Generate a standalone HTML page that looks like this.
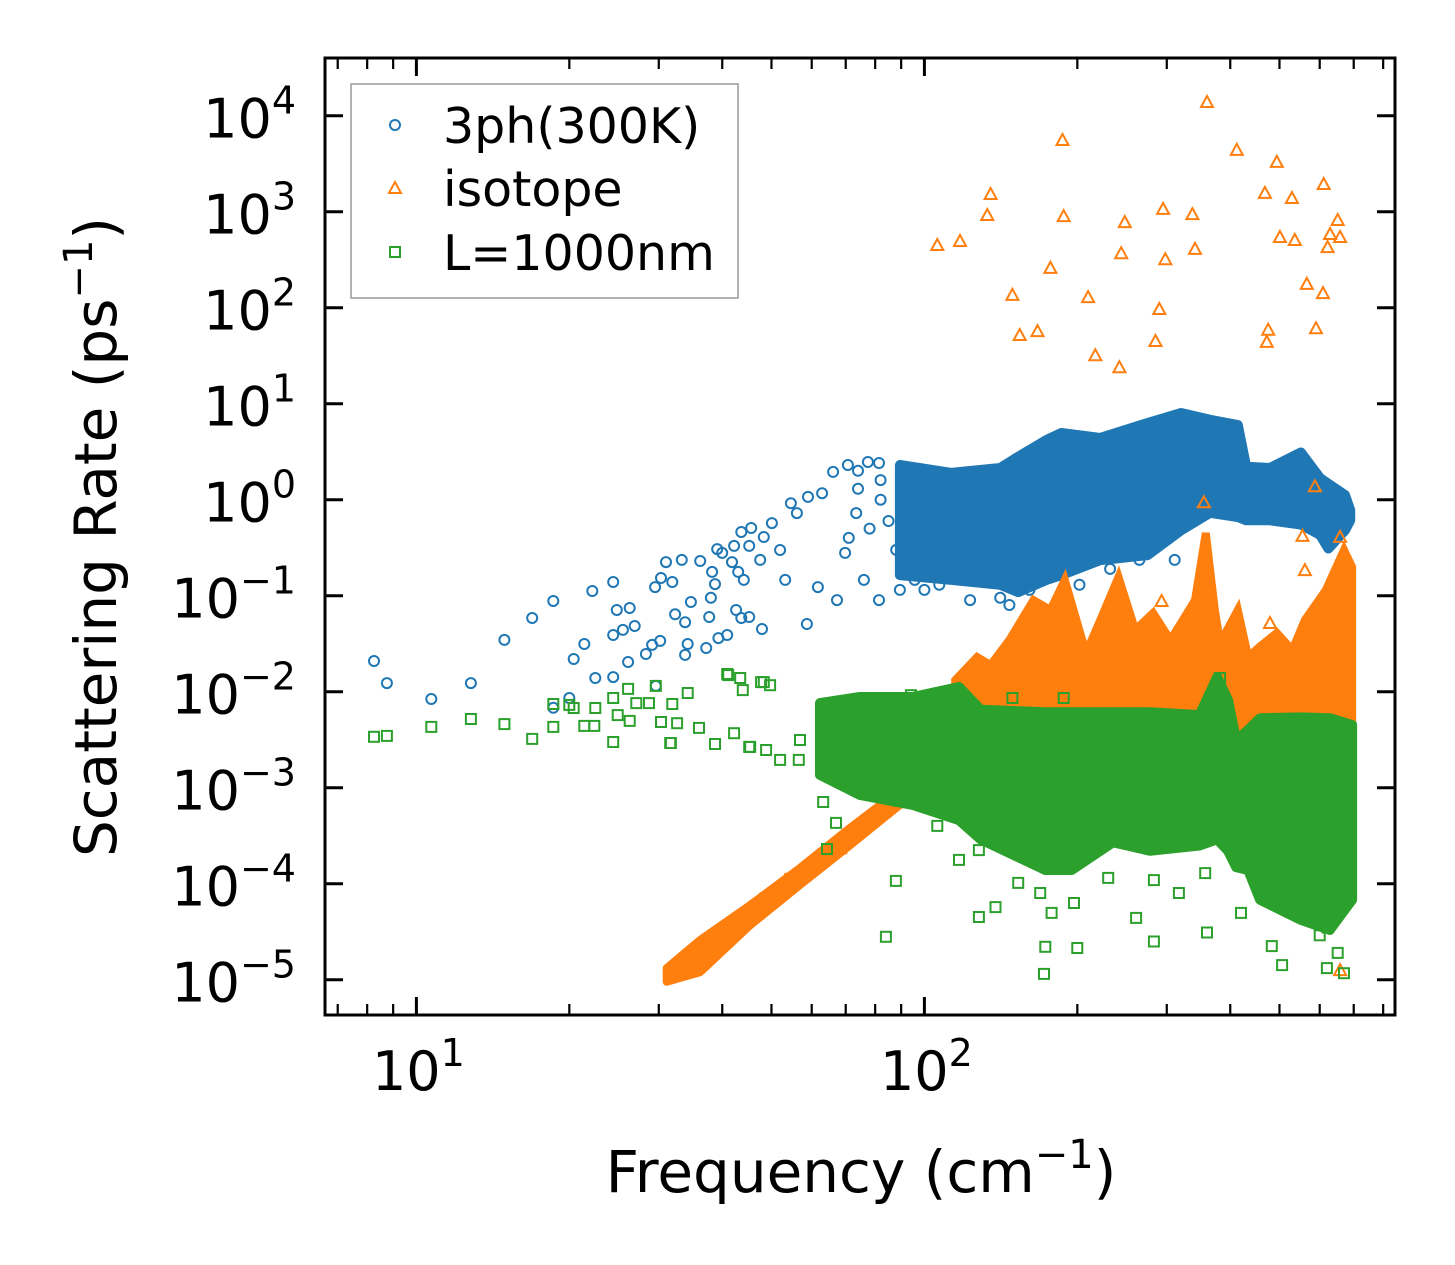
<!DOCTYPE html>
<html><head><meta charset="utf-8"><title>Scattering Rate vs Frequency</title>
<style>
html,body{margin:0;padding:0;background:#fff;}
svg{display:block;font-family:"DejaVu Sans","Liberation Sans",sans-serif;}
</style></head>
<body>
<svg id="chart" width="1455" height="1265" viewBox="0 0 1455 1265" xmlns="http://www.w3.org/2000/svg">
<rect x="0" y="0" width="1455" height="1265" fill="#fff"/>
<g id="marks"></g>
<g id="axes"></g>
<g id="legend">
  <rect x="351" y="84" width="387" height="214" fill="#fff" fill-opacity="0.8" stroke="#999" stroke-width="1.5"/>
  <circle cx="395" cy="125" r="5" fill="none" stroke="#1f77b4" stroke-width="2"/>
  <text x="443" y="143" font-size="49" fill="#000">3ph(300K)</text>
  <polygon points="395,182 401,193 389,193" fill="none" stroke="#ff7f0e" stroke-width="2"/>
  <text x="443" y="206" font-size="49" fill="#000">isotope</text>
  <rect x="390" y="247" width="10" height="10" fill="none" stroke="#2ca02c" stroke-width="2"/>
  <text x="443" y="270" font-size="49" fill="#000">L=1000nm</text>
</g>
<text x="861" y="1192" font-size="58" text-anchor="middle" fill="#000">Frequency (cm<tspan font-size="40" dy="-24">−1</tspan><tspan dy="24">)</tspan></text>
<text transform="translate(116,537) rotate(-90)" font-size="58" text-anchor="middle" fill="#000">Scattering Rate (ps<tspan font-size="40" dy="-24">−1</tspan><tspan dy="24">)</tspan></text>
</svg>
<script>
// ---- axis domain ----
const xTickExps = [1, 2];
const yTickExps = [4, 3, 2, 1, 0, -1, -2, -3, -4, -5];
const xMinorVals = [7, 8, 9, 20, 30, 40, 50, 60, 70, 80, 90, 200, 300, 400, 500, 600, 700, 800];

// ---- 3ph (300K) : scattered points ----
const blueFreq = [8.25,8.75,10.7,12.8,14.9,16.9,18.6,22.2,24.4,20.0,18.6,20.4,21.4,22.5,24.4,24.4,24.8,26.3,25.5,26.9,26.1,28.3,29.1,30.2,29.6,29.5,30.3,31.0,31.9,33.3,32.3,33.8,34.7,34.2,33.8,36.2,37.2,37.7,38.0,38.2,38.7,39.1,40.0,39.3,40.9,42.2,41.8,43.0,43.6,44.1,45.6,45.2,47.5,42.6,43.6,45.2,47.9,50.1,48.3,52.0,53.2,54.6,56.1,58.7,59.0,62.9,66.1,61.7,67.3,70.7,77.4,81.4,73.4,69.8,81.4,76.0,89.5,95.7,107,119,132,141,74,82,78,85,71,88,82,74,91.6,100,112,123,135,147,161,185,202,232,265,311];
const blueRate = [0.0209,0.0123,0.0084,0.0123,0.0346,0.0586,0.088,0.112,0.139,0.0086,0.0068,0.0219,0.0314,0.0139,0.0142,0.039,0.071,0.0745,0.044,0.0484,0.0204,0.0247,0.0307,0.0338,0.0115,0.123,0.153,0.224,0.139,0.236,0.064,0.053,0.086,0.0314,0.0242,0.23,0.0285,0.060,0.095,0.177,0.132,0.306,0.279,0.0362,0.039,0.33,0.224,0.177,0.461,0.146,0.507,0.33,0.236,0.071,0.0586,0.060,0.045,0.571,0.409,0.299,0.146,0.92,0.726,0.0507,1.07,1.17,1.95,0.123,0.090,2.30,2.47,2.41,0.726,0.279,0.090,0.146,0.115,0.146,0.13,0.153,0.139,0.095,1.3,1.0,0.5,0.6,0.4,0.3,1.6,2.0,0.236,0.115,0.28,0.090,0.19,0.08,0.115,0.164,0.13,0.19,0.236,0.236];
// 3ph dense cloud envelope
const blueBandFreq = [89.5,113,141,153,174,186,222,275,320,365,414,430,479,551,601,624,673,689];
const blueBandHigh = [2.3,1.9,2.14,2.8,4.2,4.95,4.4,6.3,8.0,6.8,6.0,2.2,2.14,3.1,1.68,1.46,1.12,0.78];
const blueBandLow = [0.164,0.146,0.13,0.109,0.146,0.164,0.235,0.265,0.48,0.73,0.66,0.61,0.61,0.55,0.43,0.31,0.48,0.61];

// ---- isotope : scattered points ----
const orangeFreq = [106,117.5,133,135,149,154,167,177,187,188,210,217,242,244,248,295,290,285,298,337,341,360,412,468,494,475,472,501,529,536,566,590,609,611,622,629,651,658,561,555,587,658,293,479,355,32.3,34.1,37.8,43.4,47.5,53.2,61.0,68.2,76.4,85.5,95.7,105,658];
const orangeRate = [450,495,925,1530,136,52,57,260,5580,900,129,32,24,370,780,1070,97,45,320,945,410,13900,4400,1570,3300,59,44,545,1390,507,177,61,142,1945,428,586,820,545,0.185,0.42,1.38,0.41,0.088,0.052,0.94,1.32e-5,1.8e-5,2.6e-5,3.7e-5,6.8e-5,1.09e-4,1.57e-4,2.34e-4,4.1e-4,6.6e-4,9.0e-4,1.2e-3,1.26e-5];
// isotope low-frequency streak envelope
const orangeStreakFreq = [31.1,36.2,45.4,56.9,71.3,89.5,112];
const orangeStreakHigh = [1.32e-5,2.6e-5,6.0e-5,1.46e-4,3.8e-4,9.5e-4,1.53e-3];
const orangeStreakLow = [9.5e-6,1.2e-5,3.7e-5,9.7e-5,2.5e-4,6.6e-4,1.07e-3];
// isotope dense cloud envelope
const orangeBandFreq = [115,127,135,147,164,177,189,208,222,241,260,282,305,320,341,358,373,382,414,434,456,494,530,561,617,670,695];
const orangeBandHigh = [0.0132,0.023,0.019,0.0346,0.090,0.071,0.146,0.0253,0.056,0.157,0.044,0.066,0.0346,0.052,0.090,0.45,0.071,0.0322,0.071,0.023,0.0292,0.041,0.0272,0.056,0.115,0.30,0.199];
const orangeBandLow = [8e-4,8e-4,8e-4,8e-4,8e-4,8e-4,8e-4,8e-4,8e-4,8e-4,8e-4,8e-4,8e-4,8e-4,8e-4,8e-4,8e-4,8e-4,8e-4,8e-4,8e-4,8e-4,8e-4,8e-4,8e-4,8e-4,8e-4];

// ---- L=1000nm : scattered points ----
const greenFreq = [8.25,8.75,10.7,12.8,14.9,16.9,18.6,18.6,20.0,20.4,21.4,22.4,22.5,24.4,24.4,24.9,26.1,26.3,27.1,28.7,29.6,30.3,31.7,31.9,32.6,34.2,36.0,38.7,41.1,43.4,43.9,47.7,49.7,42.2,45.2,48.8,56.6,31.6,45.4,63.2,67.0,64.3,84.0,87.9,106,128,173,200,172,283,360,483,506,620,670,651,317,261,420,197,138,153,283,556,600,536,622,685,494,128,117,230,357,169,178,40.9,48.3,382,188,149,94.1,56.9,52.0];
const greenRate = [0.00339,0.00346,0.0043,0.0052,0.0046,0.00322,0.0043,0.00745,0.00728,0.00676,0.0044,0.0044,0.00676,0.0086,0.00299,0.0057,0.0107,0.00496,0.0076,0.0076,0.0115,0.00484,0.00292,0.00745,0.0047,0.0097,0.0042,0.00285,0.0149,0.0139,0.0104,0.0126,0.0117,0.0037,0.00266,0.00247,0.00195,0.00292,0.00266,7.1e-4,4.3e-4,2.3e-4,2.8e-5,1.07e-4,4.0e-4,4.5e-5,2.2e-5,2.14e-5,1.15e-5,2.5e-5,3.1e-5,2.24e-5,1.42e-5,1.32e-5,1.17e-5,1.9e-5,8.0e-5,4.4e-5,4.96e-5,6.3e-5,5.7e-5,1.02e-4,1.09e-4,4.5e-5,2.9e-5,8.0e-5,3.5e-5,7.3e-5,9.7e-5,2.24e-4,1.77e-4,1.15e-4,1.29e-4,8.0e-5,4.96e-5,0.0153,0.0126,0.0139,0.0086,0.0086,0.0092,0.00314,0.00195];
// L=1000nm dense cloud envelope
const greenBandFreq = [62.3,74.7,94.9,117,129,173,195,235,278,348,377,396,411,434,458,551,628,695];
const greenBandHigh = [0.0076,0.0088,0.0088,0.0112,0.0065,0.0061,0.0061,0.0061,0.0061,0.0057,0.0142,0.0082,0.0031,0.0040,0.0053,0.0054,0.0053,0.0045];
const greenBandLow = [0.00136,0.00084,0.00066,0.00046,0.00029,0.000139,0.000139,0.00027,0.00022,0.00025,0.00029,0.00022,0.000149,0.000139,0.000068,0.000042,0.000033,0.000068];

// ---- scales ----
const X0 = 416.4, XDEC = 508, Y0 = 115.7, YDEC = 96;
const PL = 325, PR = 1395, PT = 58, PB = 1015;
function xScale(f){ return X0 + XDEC * (Math.log10(f) - 1); }
function yScale(r){ return Y0 + YDEC * (4 - Math.log10(r)); }

const NS = 'http://www.w3.org/2000/svg';
const marks = document.getElementById('marks');
const axes = document.getElementById('axes');
function mk(tag, attrs, parent){
  const e = document.createElementNS(NS, tag);
  for (const k in attrs) e.setAttribute(k, attrs[k]);
  parent.appendChild(e);
  return e;
}

const C_BLUE = '#1f77b4', C_ORANGE = '#ff7f0e', C_GREEN = '#2ca02c';

function bandPath(fr, hi, lo){
  const pts = [];
  for (let i = 0; i < fr.length; i++) pts.push(xScale(fr[i]).toFixed(1) + ',' + yScale(hi[i]).toFixed(1));
  for (let i = fr.length - 1; i >= 0; i--) pts.push(xScale(fr[i]).toFixed(1) + ',' + yScale(lo[i]).toFixed(1));
  return pts.join(' ');
}

// ---- 3ph series ----
const gBlue = mk('g', {}, marks);


const blueBand = mk('polygon', {points: bandPath(blueBandFreq, blueBandHigh, blueBandLow), fill: C_BLUE, stroke: C_BLUE, 'stroke-width': 10, 'stroke-linejoin': 'round'}, gBlue);


for (let i = 0; i < blueFreq.length; i++){
  const c = mk('circle', {cx: xScale(blueFreq[i]).toFixed(1), cy: yScale(blueRate[i]).toFixed(1), r: 5, fill: 'none', stroke: C_BLUE, 'stroke-width': 2}, gBlue);
  
  
}

// ---- isotope series ----
const gOr = mk('g', {}, marks);


const orBand = mk('polygon', {points: bandPath(orangeBandFreq, orangeBandHigh, orangeBandLow), fill: C_ORANGE, stroke: C_ORANGE, 'stroke-width': 8, 'stroke-linejoin': 'miter'}, gOr);


const orStreak = mk('polygon', {points: bandPath(orangeStreakFreq, orangeStreakHigh, orangeStreakLow), fill: C_ORANGE, stroke: C_ORANGE, 'stroke-width': 8, 'stroke-linejoin': 'round'}, gOr);


for (let i = 0; i < orangeFreq.length; i++){
  const x = xScale(orangeFreq[i]), y = yScale(orangeRate[i]);
  const t = mk('polygon', {points: `${x.toFixed(1)},${(y-6).toFixed(1)} ${(x+6).toFixed(1)},${(y+5).toFixed(1)} ${(x-6).toFixed(1)},${(y+5).toFixed(1)}`, fill: 'none', stroke: C_ORANGE, 'stroke-width': 2}, gOr);
  
  
}

// ---- L=1000nm series ----
const gGr = mk('g', {}, marks);


const grBand = mk('polygon', {points: bandPath(greenBandFreq, greenBandHigh, greenBandLow), fill: C_GREEN, stroke: C_GREEN, 'stroke-width': 10, 'stroke-linejoin': 'round'}, gGr);


for (let i = 0; i < greenFreq.length; i++){
  const s = mk('rect', {x: (xScale(greenFreq[i]) - 5).toFixed(1), y: (yScale(greenRate[i]) - 5).toFixed(1), width: 10, height: 10, fill: 'none', stroke: C_GREEN, 'stroke-width': 2}, gGr);
  
  
}

// ---- axes: frame ----
const frame = mk('rect', {x: PL, y: PT, width: PR - PL, height: PB - PT, fill: 'none', stroke: '#000', 'stroke-width': 3}, axes);



// x ticks
for (const e of xTickExps){
  const x = xScale(Math.pow(10, e));
  const tb = mk('line', {x1: x, x2: x, y1: PB, y2: PB - 18, stroke: '#000', 'stroke-width': 3}, axes);
  
  
  const tt = mk('line', {x1: x, x2: x, y1: PT, y2: PT + 18, stroke: '#000', 'stroke-width': 3}, axes);
  
  
  const lab = mk('text', {x: x + 2, y: 1090, 'font-size': 54, 'text-anchor': 'middle', fill: '#000'}, axes);
  
  
  lab.appendChild(document.createTextNode('10'));
  const sup = mk('tspan', {'font-size': 38, dy: -24}, lab);
  sup.textContent = String(e);
}
for (const v of xMinorVals){
  const x = xScale(v);
  if (x < PL || x > PR) continue;
  const mb = mk('line', {x1: x, x2: x, y1: PB, y2: PB - 11, stroke: '#000', 'stroke-width': 2.2}, axes);
  
  
  const mt = mk('line', {x1: x, x2: x, y1: PT, y2: PT + 11, stroke: '#000', 'stroke-width': 2.2}, axes);
  
  
}
// y ticks
for (const e of yTickExps){
  const y = yScale(Math.pow(10, e));
  const tl = mk('line', {x1: PL, x2: PL + 18, y1: y, y2: y, stroke: '#000', 'stroke-width': 3}, axes);
  
  
  const tr = mk('line', {x1: PR, x2: PR - 18, y1: y, y2: y, stroke: '#000', 'stroke-width': 3}, axes);
  
  
  const lab = mk('text', {x: 296, y: y + 22, 'font-size': 54, 'text-anchor': 'end', fill: '#000'}, axes);
  
  
  lab.appendChild(document.createTextNode('10'));
  const sup = mk('tspan', {'font-size': 38, dy: -24}, lab);
  sup.textContent = e < 0 ? '−' + Math.abs(e) : String(e);
}
</script>
</body></html>
